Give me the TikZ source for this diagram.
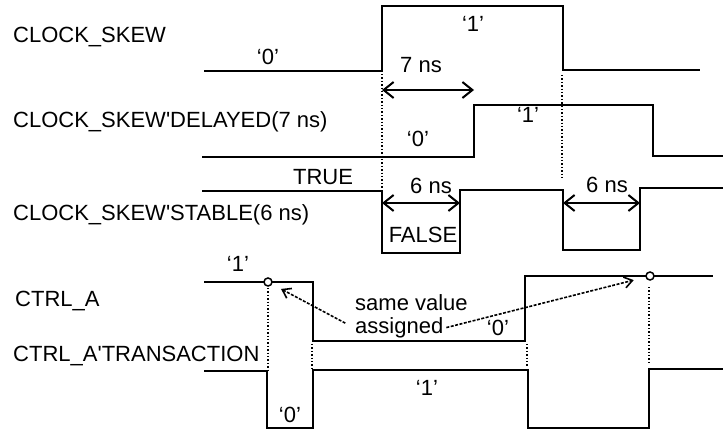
\documentclass[tikz,border=0pt]{standalone}
\usepackage{fontspec}
\setmainfont{Liberation Sans}
\usetikzlibrary{arrows.meta, positioning}

\begin{document}
\begin{tikzpicture}[x=1pt, y=-1pt,
    font=\fontsize{22}{26}\selectfont,
    wave/.style={line width=2.4pt},
    guide/.style={dotted, line width=1.4pt},
    span/.style={line width=2pt, {Straight Barb[length=10pt,width=16pt]}-{Straight Barb[length=10pt,width=16pt]}},
    assign/.style={dash pattern=on 3pt off 1.5pt, line width=1.6pt, -{Straight Barb[length=8pt,width=11pt]}},
    sig/.style={anchor=base west, inner sep=0pt},
    val/.style={anchor=base, inner sep=0pt},
    tap/.style={circle, draw, line width=1.5pt, fill=white, inner sep=0pt, minimum size=8pt}]
    \useasboundingbox (0,0) rectangle (723,430);

    % Signal names
    \node (skew) [sig] at (13,43) {CLOCK\_SKEW};
    \node (delayed) [sig] at (13,128) {CLOCK\_SKEW\textquotesingle DELAYED(7 ns)};
    \node (stable) [sig] at (13,221) {CLOCK\_SKEW\textquotesingle STABLE(6 ns)};
    \node (ctrl) [sig] at (15,307) {CTRL\_A};
    \node (trans) [sig] at (13,362) {CTRL\_A\textquotesingle TRANSACTION};

    % Waveforms
    \draw[wave] (204,71) -- (382,71) -- (382,6) -- (563,6) -- (563,70) -- (700,70);
    \draw[wave] (202,157) -- (474,157) -- (474,105) -- (653,105) -- (653,156) -- (723,156);
    \draw[wave] (202,191) -- (382,191) -- (382,253) -- (460,253) -- (460,190)
        -- (563,190) -- (563,250) -- (640,250) -- (640,188) -- (723,188);
    \draw[wave] (204,282) -- (313,282) -- (313,341) -- (525,341) -- (525,276) -- (713,276);
    \draw[wave] (204,371) -- (267,371) -- (267,428) -- (313,428) -- (313,370)
        -- (528,370) -- (528,428) -- (649,428) -- (649,369) -- (723,369);

    % Values
    \node (s0) [val] at (268,65) {`0'};
    \node (s1) [val] at (473,32) {`1'};
    \node (d0) [val] at (418,147) {`0'};
    \node (d1) [val] at (528,123) {`1'};
    \node (true) [val] at (323,185) {TRUE};
    \node (false) [val] at (423,243) {FALSE};
    \node (a1) [val] at (238,272) {`1'};
    \node (a0) [val] at (498,335) {`0'};
    \node (r1) [val] at (427,395) {`1'};
    \node (r0) [val] at (290,422) {`0'};

    % Delays
    \coordinate (rise) at (382,90);
    \coordinate (late) at (474,90);
    \coordinate (f1) at (382,203);
    \coordinate (f2) at (460,203);
    \coordinate (g1) at (563,203);
    \coordinate (g2) at (640,203);
    \draw[span] (rise) -- (late);
    \draw[span] (f1) -- (f2);
    \draw[span] (g1) -- (g2);
    \node (t7) [val] at (421,73) {7 ns};
    \node (t6a) [val] at (431,194) {6 ns};
    \node (t6b) [val] at (607,193) {6 ns};

    % Guides
    \draw[guide] (382,74) -- (382,188);
    \draw[guide] (562,75) -- (562,180);
    \draw[guide] (268,288) -- (268,371);
    \draw[guide] (312,344) -- (312,368);
    \draw[guide] (527,344) -- (527,366);
    \draw[guide] (649,287) -- (649,364);

    % Transactions
    \node (cA) [tap] at (268,282) {};
    \node (cB) [tap] at (650,276) {};
    \node (same) [sig] at (355,311) {same value};
    \node (assigned) [sig] at (355,334) {assigned};
    \draw[assign, shorten <=11pt, shorten >=10pt] (assigned.west) -- (cA);
    \draw[assign, shorten <=3pt, shorten >=12pt] (assigned.east) -- (cB);

\end{tikzpicture}
\end{document}
